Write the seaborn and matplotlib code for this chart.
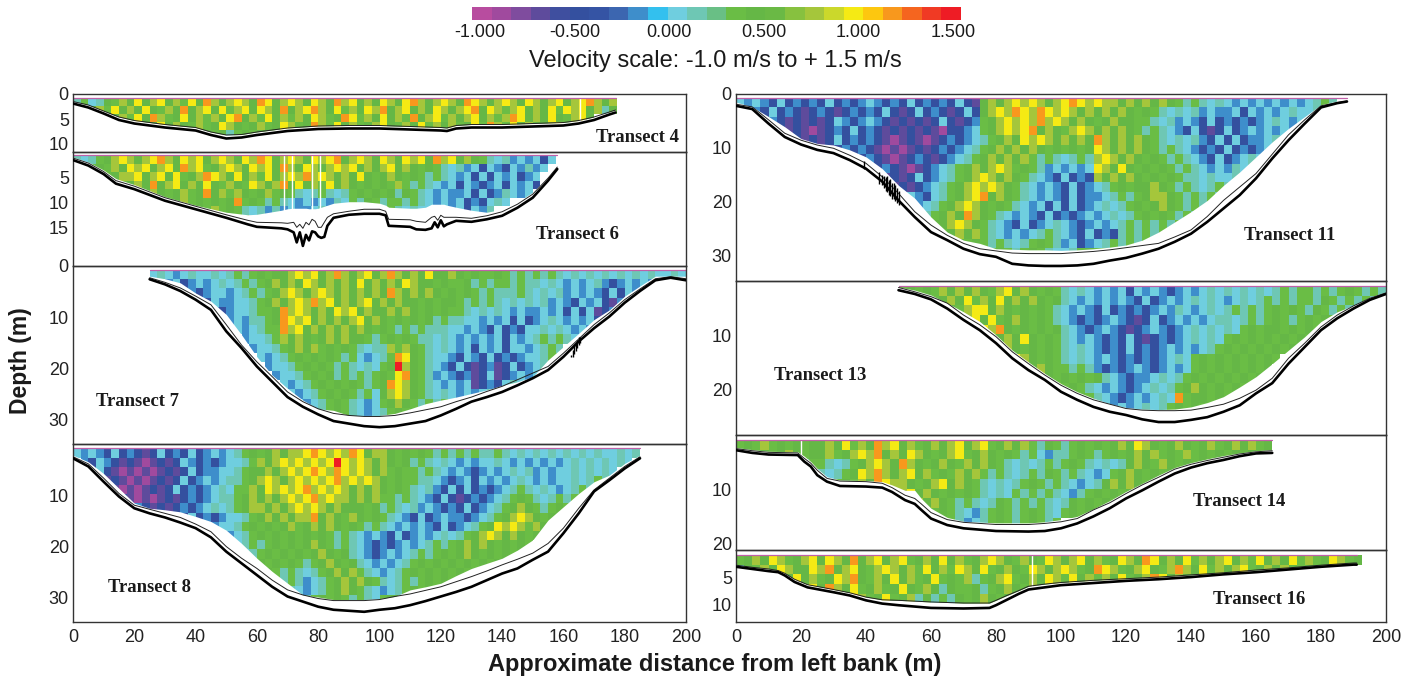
"""
ADCP velocity transects, redrawn with seaborn heatmaps
"""

import numpy as np
import pandas as pd
import matplotlib
matplotlib.use('Agg')
import matplotlib.pyplot as plt
from matplotlib.colors import ListedColormap
import seaborn as sns

# velocity classes of the colour bar
BAR_COLORS = ['#B84C9F', '#A04A9E', '#7F4C9E', '#5E4B9C', '#3F4F9F', '#34509F', '#3554A4',
              '#3C66B0', '#3E8ECB', '#33C0EE', '#6FCEDF', '#6EC7B4', '#69BF85', '#6ABD45',
              '#65B746', '#6AB945', '#87C13F', '#A5C63B', '#CBD82B', '#F5EA14', '#FDC70F',
              '#F8981D', '#F5651F', '#F03A24', '#EE1C25']
BAR_TICKS = [-1.0, -0.5, 0.0, 0.5, 1.0, 1.5]

# one character per cell, m/s
CODES = {'0': -0.9, '1': -0.7, '2': -0.45, '3': -0.2, '4': 0.0, '5': 0.15,
         '6': 0.35, '7': 0.5, '8': 0.75, '9': 1.0, 'a': 1.2, 'b': 1.45}

T4_X = [0, 5, 10, 15, 20, 30, 40, 45, 50, 55, 60, 70, 80, 90, 100, 110, 120, 122, 125, 130, 140, 150, 160, 165, 170, 175, 177]
T4_BED = [1.9, 2.7, 3.9, 5.2, 5.9, 6.7, 7.3, 8.2, 8.9, 8.7, 8.2, 7.4, 7, 6.9, 6.9, 7.1, 7.3, 7.4, 6.9, 6.7, 6.7, 6.5, 6.3, 5.9, 5.2, 4.1, 3.7]
T4_INNER = [1.5, 2.2, 3.4, 4.6, 5.3, 6.1, 6.7, 7.6, 8.2, 8.1, 7.6, 6.8, 6.4, 6.3, 6.3, 6.5, 6.7, 6.8, 6.3, 6.1, 6.1, 5.9, 5.7, 5.3, 4.6, 3.6, 3.2]
T4_CELLS = [
    "5645768797 8978697a87 8987a97898 7987a89787 9879a87898 7a98789879 8789789a87 8",
    "4578697879 7687a78979 6897987a78 9a87968798 a789787987 89a7986897 8796989785 7",
    "...7678697 a867978687 9a78697868 79867a9687 9786a78968 7897868a97 87976897.. .",
    "......6787 6978768679 8767867986 7a86978678 9768796878 6796a86978 678967.... .",
    ".......... ......6767 5676767... .......... .......... .......... ..........",
]
T4_GAPS = [165.5]

T6_X = [0, 5, 10, 14, 20, 30, 40, 50, 57, 60, 68, 70, 72, 73, 74, 75, 76, 77, 78, 79, 80, 81, 82, 83, 85, 90, 95, 100, 102, 103, 110, 112, 115, 117, 118, 119, 120, 121, 122, 125, 130, 135, 140, 145, 150, 155, 158]
T6_BED = [1.6, 2.7, 4.4, 6.3, 7.4, 9.7, 11.4, 13.1, 14.4, 14.9, 15.2, 15.4, 16, 18, 16, 18.7, 16.5, 17.6, 15.8, 16, 16.8, 17.1, 16.9, 14.7, 13.1, 12.5, 12.3, 12.3, 12.6, 14.7, 14.9, 15.4, 15.5, 15.2, 14, 15, 13.6, 14.8, 14.4, 13.7, 13.9, 13.4, 12.7, 11.1, 9.1, 5.7, 3.4]
T6_INNER = [1.2, 2.2, 3.9, 5.7, 6.8, 9.1, 10.8, 12.5, 13.6, 14, 14.1, 14.2, 14, 15, 14.4, 15.2, 14, 14.5, 13.4, 13.8, 15, 15, 14, 13, 12.3, 11.8, 11.4, 11.4, 11.8, 13.4, 13.5, 13.8, 14, 13, 12.8, 13.6, 12.6, 13, 13, 13, 13.2, 12.7, 11.9, 10.4, 8.4, 5.2, 3]
T6_EDGE = [1, 2, 3.6, 5.3, 6.5, 8.9, 10.6, 12, 12.5, 12.4, 11.6, 11.3, 11.2, 11.2, 11.2, 11.2, 11.2, 11.3, 11.3, 11.3, 11.2, 11, 10.8, 10.6, 10.2, 9.9, 9.9, 10.2, 10.6, 11, 11.2, 11.2, 11, 10.4, 10.4, 10.4, 10.4, 10.4, 10.6, 11, 11.6, 12, 11.4, 10, 8, 4.9, 2.8]
T6_CELLS = [
    "5456789878 9a87989789 8798a97898 7989a78987 9879897a89 7876545343 424",
    "4567687989 7897a89678 9879897a87 9878989787 8978767654 5342432435 34.",
    ".457678897 8979678a98 7978697898 a898787976 7876765654 3424243423 4..",
    "...5676787 a789787976 8769878a79 7869787676 7686565434 2432342434 2..",
    ".....66767 8767867a78 6876786765 4565456767 6757654343 3424235434 ...",
    ".......657 6767867676 7a67656543 4343546576 5665654343 4232454... ...",
    "........56 7567567686 7654535343 3454354565 5654544343 42435..... ...",
    ".......... ...5676767 6565434343 4545354545 4654545343 43........ ...",
]
T6_GAPS = [69, 71.5, 78, 80.5]

T7_X = [25, 30, 35, 40, 45, 50, 55, 60, 65, 70, 75, 80, 85, 90, 95, 100, 105, 110, 115, 120, 125, 130, 135, 140, 145, 150, 155, 160, 165, 170, 175, 180, 185, 190, 195, 200]
T7_BED = [2.6, 3.6, 4.9, 6.6, 8.6, 12.8, 16.1, 19.7, 22.7, 25.7, 27.6, 29.1, 30.4, 30.9, 31.4, 31.6, 31.4, 30.9, 30.4, 29.3, 28, 26.6, 25.7, 24.7, 23.4, 22, 20.4, 17.8, 14.8, 12.2, 9.9, 7.2, 4.9, 2.8, 2.3, 2.8]
T7_INNER = [2.3, 3.2, 4.3, 5.9, 7.6, 11.5, 15.5, 18.8, 21.7, 24.7, 26.6, 28, 28.9, 29.3, 29.5, 29.5, 29.3, 28.8, 28.2, 27.6, 26.6, 25.7, 24.6, 23.6, 22.3, 21, 19.7, 17.1, 14.3, 11.5, 9.2, 6.6, 4.5, 2.5, 2.1, 2.5]
T7_EDGE = [2, 2.5, 3.3, 5.3, 6.9, 9.5, 13.5, 17.8, 21.4, 24, 26.3, 28, 28.3, 29.3, 29.3, 29.3, 28.9, 28, 27, 26.3, 25.7, 25, 24.3, 23.4, 22.7, 21.7, 18.4, 15.8, 13.2, 10.5, 8.6, 5.9, 3.9, 2, 2, 2]
T7_CELLS = [
    "4543454454 5656767789 8978a87897 8a87879778 7676676565 6565454545 4545454454",
    "..34234345 4565678787 9878787978 7879877676 6756566565 5454343453 2343434454",
    "...3432344 3456567898 7898787878 7a87878767 6765655565 4545343432 424343444.",
    "......3243 3445678789 8a89787897 8787767677 6565654545 4534324342 1324334...",
    "........32 3445667a89 8787989787 7878767676 6545454343 3434242412 3234......",
    ".......... 3435567a98 9787878978 7676767565 5443434242 3454343423 34........",
    ".......... .434566a89 7878787876 7656565554 4343242324 4545434343 ..........",
    ".......... ..34456878 7678787765 6767655454 3434342434 5656544... ..........",
    ".......... ...3445678 7867676545 5868765454 3424342443 4565...... ..........",
    ".......... ....434567 6767656434 56a9765443 2432423234 4567...... ..........",
    ".......... .....34456 7676565454 67b8765432 4212312423 456....... ..........",
    ".......... ......3445 6767565656 769a765343 2312412343 4......... ..........",
    ".......... .......434 5676767656 7a98765434 3412324545 .......... ..........",
    ".......... ........43 4567676564 7898765454 3434565... .......... ..........",
    ".......... .........4 3456765434 6787656565 4565...... .......... ..........",
    ".......... .......... 3456765434 5676766565 .......... .......... ..........",
    ".......... .......... ...6765656 5676565... .......... .......... ..........",
]
T7_JAG_X = [162.5, 163, 163.5, 164, 164.5, 165, 165.5]
T7_JAG_TOP = [17.5, 16.5, 15.5, 15, 14.5, 14, 14]
T7_JAG_BOT = [17.9, 17.8, 17.2, 16.6, 16, 15.5, 15]

T8_X = list(range(0, 186, 5))
T8_BED = [2.8, 4.4, 7.4, 10.3, 12.6, 13.6, 14.4, 15.4, 16.5, 18.3, 21.1, 23.4, 25.7, 28, 29.9, 30.9, 31.9, 32.5, 32.7, 32.9, 32.5, 32.2, 31.6, 30.8, 29.9, 29, 28, 26.7, 25.4, 24.4, 22.7, 21.1, 17.5, 13.6, 9.3, 7.1, 4.8, 2.8]
T8_INNER = [2.5, 3.9, 6.7, 9.7, 12, 12.8, 13.6, 14.4, 15.7, 17.2, 20.1, 22.4, 24.4, 26.7, 28.6, 29.6, 30.3, 30.7, 30.7, 30.7, 30.5, 29.9, 29.4, 28.7, 28, 27, 26, 24.9, 23.7, 22.6, 21.4, 19.5, 16.5, 12.6, 9, 6.7, 4.4, 2.5]
T8_EDGE = [2.2, 3.5, 5.8, 8.7, 11.6, 12.6, 12.9, 13.3, 14.2, 15.2, 16.9, 19.5, 22.4, 25, 27.3, 29.6, 30, 30.5, 30.5, 30.5, 30.3, 29.9, 28.6, 28, 27.3, 25.8, 24.4, 23.4, 22.4, 20.8, 18.8, 14.9, 12.3, 9.7, 7.4, 6.1, 3.8, 2.2]
T8_CELLS = [
    "4343242321 2423242343 4567678788 9a9898a978 8767676565 6565565454 5454545454 4545.",
    ".324321210 1212432323 4456878989 8989b98987 8767565454 3434454343 4343454545 454..",
    "..24210101 0121242334 4567787898 9a98a98987 8676656543 4323434545 3434454545 4....",
    "...2121010 1212423434 5567898789 8989a89898 7676655432 3424343454 3434454565 .....",
    "....210101 2124232345 4668798989 a898987878 7676545324 2423234565 4543456565 .....",
    "......2101 0121232345 5678787898 9a89887878 6656543242 1232345676 5456565... .....",
    "........32 1212323454 5678878789 8987877767 5654534323 2423456787 6567676... .....",
    ".......... ...3242323 4456787878 8a78768767 6543242343 3234567898 76765..... .....",
    ".......... .....32434 4567676786 7878767656 5434343242 3456798986 8767...... .....",
    ".......... ......3424 3456767676 7676565434 3242343454 5678987876 76........ .....",
    ".......... ........23 4456567676 7876565432 3234345656 7878767676 .......... .....",
    ".......... .........4 3445676767 6787675432 3434565676 7876767676 .......... .....",
    ".......... .......... 3456767676 5678767543 4345676767 67676767.. .......... .....",
    ".......... .......... .345676565 4567878654 3456767676 7676...... .......... .....",
    ".......... .......... ...4567565 3456787876 5456567676 7......... .......... .....",
    ".......... .......... .....67654 3456787654 3456767676 .......... .......... .....",
    ".......... .......... ......6654 5676765654 6767...... .......... .......... .....",
]

T11_X = list(range(0, 186, 5)) + [188]
T11_BED = [2.2, 2.8, 5.5, 8, 9.4, 10.4, 11, 12.3, 13.9, 16.3, 19.8, 22.9, 25.7, 27.2, 28.8, 29.8, 30.3, 31.6, 31.9, 32, 32, 31.9, 31.6, 31, 30.5, 29.7, 28.8, 27.5, 26, 23.8, 21.3, 18.8, 15.7, 12, 8.6, 5.5, 2.5, 1.7, 1.4]
T11_INNER = [1.9, 2.4, 4.8, 7.3, 8.6, 9.5, 10.1, 11.4, 12.9, 15.4, 18.5, 21.9, 24.4, 26.3, 27.8, 28.8, 29.2, 29.6, 29.7, 29.7, 29.7, 29.5, 29.3, 29, 28.6, 28.2, 27.8, 26.6, 25.3, 22.8, 19.8, 17.3, 14.8, 11.2, 7.6, 4.8, 2.2, 1.6, 1.3]
T11_EDGE = [1.5, 2.4, 4.2, 6.1, 8.3, 9.2, 9.5, 10.4, 11.7, 13.9, 17, 19.4, 22.9, 25.7, 27.2, 27.8, 28.8, 28.9, 29, 29, 29.1, 29, 28.8, 28.5, 28.1, 27.2, 25.7, 23.8, 21.9, 19.8, 17, 14.5, 11.7, 8.9, 6.4, 4.2, 2, 1.3, 1.1]
T11_CELLS = [
    "4343242323 2423234323 2423232421 7878989878 9a98988787 8787656545 4343434343 4565",
    ".432423212 3212323242 1242321242 7898a98a98 9878787876 7654545343 3424343454 455.",
    "..32321212 1243234321 2121242123 6789898a89 8787678776 6545343242 3232345434 4...",
    "...2421210 1232423212 1212102234 678989a787 6898787876 5654324212 4234343434 ....",
    "....321212 1242323210 1210123234 5678798987 8787a87878 7654545324 2423345454 ....",
    "......2421 2123232101 0121232345 6787878767 6767987878 7656543232 4232345454 ....",
    ".......101 2121323210 1232123456 7878786565 4565898787 6765654324 2345454... ....",
    ".......... 1212123232 1012345678 7898676534 3434987976 7676565434 3545454... ....",
    ".......... ...2323212 1242345678 9878765432 4232878787 6767655454 4545...... ....",
    ".......... .....34321 2123456789 8987654343 2423456767 7876565456 5456...... ....",
    ".......... ........34 2432456789 a787654343 2423345656 7887656565 65........ ....",
    ".......... .......... 3234567898 7676543424 2423454567 6787656565 .......... ....",
    ".......... .......... .3456787a8 7654343242 3234345456 7676565656 .......... ....",
    ".......... .......... ..56778987 6543242345 4323434565 6565656... .......... ....",
    ".......... .......... ....567878 6543434565 4324232565 65656..... .......... ....",
    ".......... .......... ......6767 6565456765 3423456565 65........ .......... ....",
    ".......... .......... .......... 5676567654 4567676... .......... .......... ....",
]
T11_JAG_X = [39.5, 44, 45, 45.5, 46, 46.5, 47, 47.5, 48, 48.5, 49, 49.5, 50]
T11_JAG_TOP = [12.5, 14.5, 15, 15.2, 15.5, 15.2, 16, 15.8, 16.5, 16.5, 17, 17.5, 18]
T11_JAG_BOT = [14, 16.8, 17, 17.5, 18, 18.2, 18.8, 19, 19.5, 19.6, 20, 20.2, 20.6]

T13_X = list(range(50, 201, 5))
T13_BED = [1.7, 2.4, 3.4, 5.1, 7.2, 9.1, 11.5, 14.3, 16.5, 18.3, 20.5, 22, 23.3, 24.2, 24.8, 25.6, 26.1, 26.1, 25.7, 25.2, 24.2, 23, 20.8, 18.9, 15.3, 12.2, 9.1, 6.9, 5.1, 3.5, 2.4]
T13_INNER = [1.2, 2, 2.9, 4.1, 6.3, 8.1, 10.3, 13.1, 15.3, 17.4, 19.3, 20.8, 22, 22.8, 23.6, 23.9, 24, 24, 23.9, 23.4, 22.8, 21.7, 20.2, 18, 14.3, 11.5, 8.5, 6.3, 4.6, 3.2, 2.2]
T13_EDGE = [1.1, 1.7, 2.6, 4.1, 5.7, 7.5, 10, 12.8, 15, 17.1, 19, 20.5, 21.7, 22.7, 23.4, 23.7, 23.8, 23.7, 23.3, 22.5, 21.4, 19.6, 17.7, 15.3, 12.8, 10.3, 7.5, 5.7, 4.5, 3, 2]
T13_CELLS = [
    "6767687878 7689787676 5454343424 3432343454 5454545656 6565676565",
    "..67678796 8797878767 5434343432 4234345454 3454565656 6576565656",
    "....567689 9787676765 4343242323 2343543454 5656567676 5765656...",
    ".....66789 7967876765 4323234321 2423434345 5456567656 767656....",
    "......5778 98a7676767 5432343212 3432345454 5467677676 76767.....",
    "........67 9878797676 5434323242 1232345454 6767676767 676.......",
    ".........6 7898767676 5454323242 3234343456 7676767676 7.........",
    ".......... 6787987676 5454343232 3234546767 6767676... ..........",
    ".......... .678897876 6565323234 3234346767 676767.... ..........",
    ".......... ...6789876 7676754323 3454567676 767676.... ..........",
    ".......... .....67878 6765434323 4545678767 676767.... ..........",
    ".......... .......678 7676543234 3454a67767 6767...... ..........",
    ".......... .........6 7676543434 5456767676 67........ ..........",
    ".......... .......... ...7543434 5456767... .......... ..........",
]

T14_X = [0, 5, 10, 19, 21, 23, 25, 28, 32, 40, 45, 48, 52, 55, 57, 60, 65, 70, 80, 90, 95, 100, 105, 110, 115, 120, 125, 130, 135, 140, 145, 150, 155, 160, 165]
T14_BED = [2.8, 3.3, 3.6, 3.7, 4.9, 5.8, 7.4, 8.6, 9.4, 9.5, 9.7, 10.5, 12, 12.7, 13.8, 15.4, 16.6, 17.2, 17.7, 17.8, 17.7, 17.2, 16.3, 15, 13.5, 11.7, 10.2, 8.6, 7.1, 6, 5.2, 4.6, 3.9, 3.4, 3.3]
T14_INNER = [2.5, 2.9, 3.2, 3.3, 4.3, 5.2, 6.5, 8, 8.5, 8.6, 8.9, 9.7, 11.1, 11.7, 12.7, 14.3, 15.6, 16.1, 16.5, 16.5, 16.3, 16, 15.4, 13.8, 12.5, 10.8, 9.2, 7.8, 6.3, 5.4, 4.7, 4.1, 3.5, 3.1, 2.9]
T14_EDGE = [2.3, 2.7, 3, 3.1, 3.9, 4.9, 6.2, 7.7, 8.3, 8.4, 8.6, 9.2, 10.2, 10.2, 11.7, 13.5, 15.2, 15.9, 16.2, 16.2, 16, 15.6, 15, 13.6, 12.1, 10.4, 8.9, 7.4, 6, 5.1, 4.4, 3.8, 3.3, 2.9, 2.7]
T14_CELLS = [
    "6768676767 7879687a89 7867878978 9678786576 5676767879 8767876786 787867",
    "5767678767 7867898a78 7987678967 8767656435 5676567678 7867686767 676767",
    "........56 6545678987 a876787687 8765454565 6765454578 7687676767 ......",
    ".........6 5456798a87 8978676878 6565456576 5654346787 6767676... ......",
    ".......... 4567687a98 8767897876 5454567656 5434578787 6767...... ......",
    ".......... ...6789787 8978767676 5454656565 4356767676 .......... ......",
    ".......... .....67878 7987876565 4576565654 5767676... .......... ......",
    ".......... .......678 7a87676543 5676567654 67676..... .......... ......",
    ".......... .........7 8987676534 5676567656 .......... .......... ......",
    ".......... .......... ...7676545 6765676... .......... .......... ......",
]

T16_X = [0, 5, 10, 13, 15, 18, 22, 30, 35, 40, 45, 50, 60, 70, 78, 80, 83, 87, 90, 95, 100, 110, 120, 130, 140, 150, 160, 170, 180, 190, 191]
T16_BED = [3.1, 3.5, 3.9, 4.1, 4.7, 5.9, 6.9, 7.8, 8.4, 9.3, 9.9, 10.2, 10.7, 10.8, 10.7, 10.2, 9.3, 8.1, 7.3, 6.9, 6.5, 6.1, 5.7, 5.4, 5, 4.5, 4.1, 3.6, 3.1, 2.7, 2.7]
T16_INNER = [2.8, 3.2, 3.5, 3.8, 4.3, 5.4, 6.4, 7.3, 7.9, 8.7, 9.2, 9.3, 9.6, 9.8, 9.8, 9.3, 8.5, 7.5, 6.7, 6.3, 6, 5.6, 5.3, 5, 4.6, 4.2, 3.7, 3.3, 2.8, 2.4, 2.4]
T16_CELLS = [
    "6787986789 7987a78978 9678797867 8987687698 7897867987 a978796878 9786978796 8679867",
    "5768798779 8a78976898 7869786987 9678769878 9867a98678 9768a87968 7896787876 7686...",
    "...6787978 6798a76879 7867967685 6789678798 6978687967 8a97876867 6787676... .......",
    ".....56789 7a87967867 9768757667 5678768768 7868789786 787....... .......... .......",
    ".........7 8967a86796 7857565767 8767...... .......... .......... .......... .......",
    ".......... ...6789676 7565476767 7......... .......... .......... .......... .......",
]
T16_GAPS = [91]

DISTANCE_TICKS = list(range(0, 201, 20))
FIG_W, FIG_H = 1421, 676
LEFT_COL = (73, 686)
RIGHT_COL = (736, 1386)
CELL_DX = 2.5


def px_axes(x0, x1, top, bottom, **kwargs):
    return plt.figure(1).add_axes([x0 / FIG_W, 1 - bottom / FIG_H, (x1 - x0) / FIG_W, (bottom - top) / FIG_H], **kwargs)


def cells_frame(rows):
    rows = [r.replace(' ', '') for r in rows]
    width = max(len(r) for r in rows)
    table = [[CODES.get(c, np.nan) for c in r.ljust(width, '.')] for r in rows]
    return pd.DataFrame(table)


def draw_transect(col, top, bottom, depth_max, x_start, first_depth, dz, cells, xs, bed, inner,
                  edge=None, y_labels=(), gaps=(), jag=None, bottom_panel=False, cbar_ax=None):
    cmap = ListedColormap(BAR_COLORS)
    ax_h = px_axes(col[0], col[1], top, bottom)
    if cbar_ax is not None:
        kw = {'cbar': True, 'cbar_ax': cbar_ax,
              'cbar_kws': {'orientation': 'horizontal', 'ticks': BAR_TICKS, 'format': '%.3f'}}
    else:
        kw = {'cbar': False}
    sns.heatmap(cells_frame(cells), ax=ax_h, cmap=cmap, vmin=-1.04, vmax=1.54,
                xticklabels=False, yticklabels=False, **kw)
    ax_h.set_xlim(-x_start / CELL_DX, (200 - x_start) / CELL_DX)
    ax_h.set_ylim((depth_max - first_depth) / dz, -first_depth / dz)
    ax_h.axis('off')

    ax = px_axes(col[0], col[1], top, bottom, facecolor='none', zorder=3)
    ax.set_xlim(0, 200)
    ax.set_ylim(depth_max, 0)
    ax.grid(False)
    if edge is None:
        edge = inner
    ax.fill_between(xs, edge, depth_max, color='white', lw=0, zorder=1)
    for g in gaps:
        ax.axvline(g, ymin=0.35, ymax=1 - first_depth / depth_max, color='white', lw=1, zorder=1.5)
    ax.plot(xs, np.full(len(xs), first_depth), color='#C060A8', lw=0.9, zorder=2)
    ax.plot(xs, inner, color='#222222', lw=0.7, zorder=3)
    ax.plot(xs, bed, color='black', lw=1.9, zorder=3)
    if jag is not None:
        ax.vlines(jag[0], jag[1], jag[2], color='black', lw=1.0, zorder=3)

    ax.set_yticks(np.arange(0, depth_max, 5))
    ax.set_yticks(np.arange(0, depth_max, 2.5), minor=True)
    ax.set_yticklabels([str(v) if v in y_labels else '' for v in np.arange(0, depth_max, 5).astype(int)])
    ax.tick_params(axis='y', which='major', direction='in', length=7, width=0.9, color='#8A8468', pad=3,
                   labelsize=13, labelcolor='#222222')
    ax.tick_params(axis='y', which='minor', direction='in', length=3, width=0.8, color='#8A8468')
    if bottom_panel:
        ax.set_xticks(DISTANCE_TICKS)
        ax.set_xticks(range(0, 201, 10), minor=True)
        ax.tick_params(axis='x', which='major', direction='in', length=8, width=0.9, color='#8A8468', pad=5,
                       labelsize=13, labelcolor='#222222')
        ax.tick_params(axis='x', which='minor', direction='in', length=4, width=0.8, color='#8A8468')
    else:
        ax.set_xticks([])
    for s in ax.spines.values():
        s.set_visible(True)
        s.set_color('#333333')
        s.set_linewidth(1.0)
    return ax


def px_text(x, y, s, **kwargs):
    plt.figure(1).text(x / FIG_W, 1 - y / FIG_H, s, ha='center', va='center', color='#1a1a1a', **kwargs)


sns.set_theme(style='white')
plt.rcParams['font.family'] = ['Liberation Sans', 'DejaVu Sans']
fig = plt.figure(1, figsize=(FIG_W / 100, FIG_H / 100), dpi=100, facecolor='white')

cax = px_axes(472, 961, 7, 20)
draw_transect(LEFT_COL, 94, 152, 11.6, 0, 0.75, 1.6, T4_CELLS, T4_X, T4_BED, T4_INNER,
              y_labels=(0, 5, 10), gaps=T4_GAPS, cbar_ax=cax)
cax.tick_params(axis='x', length=0, pad=3, labelsize=13, labelcolor='#1a1a1a')
for s in cax.spines.values():
    s.set_visible(False)

draw_transect(LEFT_COL, 152, 266, 22.7, 0, 0.6, 1.7, T6_CELLS, T6_X, T6_BED, T6_INNER, T6_EDGE,
              y_labels=(5, 10, 15), gaps=T6_GAPS)
draw_transect(LEFT_COL, 266, 444, 34.9, 25, 0.8, 1.8, T7_CELLS, T7_X, T7_BED, T7_INNER, T7_EDGE,
              y_labels=(0, 10, 20, 30), jag=(T7_JAG_X, T7_JAG_TOP, T7_JAG_BOT))
draw_transect(LEFT_COL, 444, 622, 34.9, 0, 0.85, 1.8, T8_CELLS, T8_X, T8_BED, T8_INNER, T8_EDGE,
              y_labels=(10, 20, 30), bottom_panel=True)
draw_transect(RIGHT_COL, 94, 281, 34.8, 0, 0.7, 1.75, T11_CELLS, T11_X, T11_BED, T11_INNER, T11_EDGE,
              y_labels=(0, 10, 20, 30), jag=(T11_JAG_X, T11_JAG_TOP, T11_JAG_BOT))
draw_transect(RIGHT_COL, 281, 435, 28.5, 50, 0.9, 1.8, T13_CELLS, T13_X, T13_BED, T13_INNER, T13_EDGE,
              y_labels=(10, 20))
draw_transect(RIGHT_COL, 435, 550, 21.2, 0, 0.9, 1.8, T14_CELLS, T14_X, T14_BED, T14_INNER, T14_EDGE,
              y_labels=(10, 20), gaps=[20])
draw_transect(RIGHT_COL, 550, 622, 13.3, 0, 0.9, 1.8, T16_CELLS, T16_X, T16_BED, T16_INNER,
              y_labels=(5, 10), gaps=T16_GAPS, bottom_panel=True)

px_text(715, 61, 'Velocity scale: -1.0 m/s to + 1.5 m/s', fontsize=17)
px_text(21, 361, 'Depth (m)', fontsize=16.5, fontweight='bold', rotation=90)
px_text(715, 665, 'Approximate distance from left bank (m)', fontsize=17, fontweight='bold')

serif = ['Liberation Serif', 'DejaVu Serif']
for x, y, name in [(637, 137, 'Transect 4'), (577, 235, 'Transect 6'), (137, 401, 'Transect 7'),
                   (149, 588, 'Transect 8'), (1290, 236, 'Transect 11'), (820, 376, 'Transect 13'),
                   (1239, 502, 'Transect 14'), (1259, 600, 'Transect 16')]:
    px_text(x, y, name, fontsize=13.4, fontweight='bold', family=serif)

fig.savefig('out.png', dpi=100, facecolor='white')
